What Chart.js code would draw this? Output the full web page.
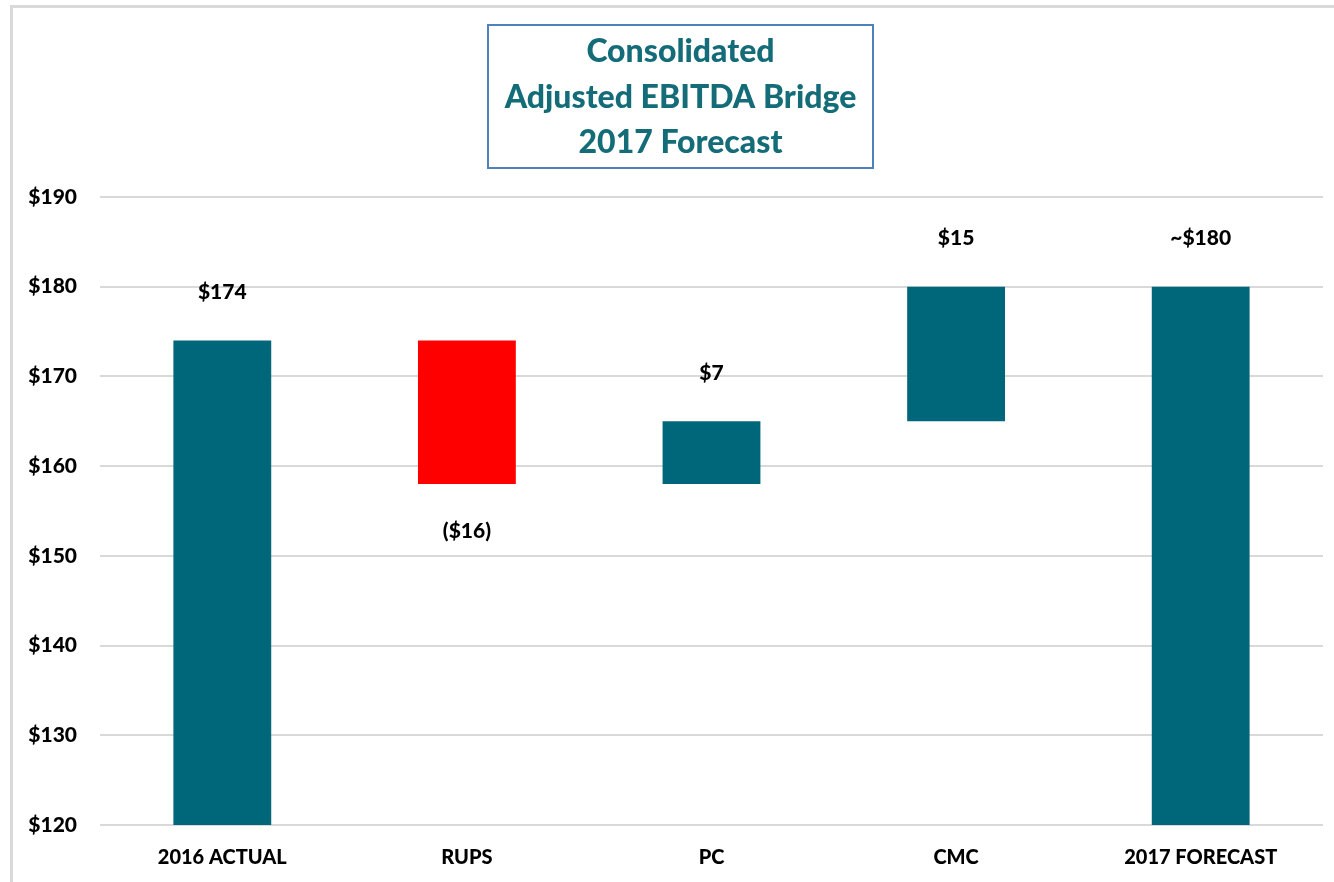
<!DOCTYPE html>
<html>
<head>
<meta charset="utf-8">
<script src="https://cdn.jsdelivr.net/npm/chart.js@4"></script>
<style>
  html, body { margin: 0; padding: 0; background: #ffffff; }
  #wrap { width: 1334px; height: 882px; position: relative; }
</style>
</head>
<body>
<div id="wrap"><canvas id="c" width="1334" height="882"></canvas></div>
<script>
// ---- data ----
const categories = ['2016 ACTUAL', 'RUPS', 'PC', 'CMC', '2017 FORECAST'];
const barStart = [120, 158, 158, 165, 120];
const barEnd   = [174, 174, 165, 180, 180];
const valueLabels = ['$174', '($16)', '$7', '$15', '~$180'];
const labelBelow = [false, true, false, false, false];
const barColors = ['#00667A', '#FF0000', '#00667A', '#00667A', '#00667A'];
const titleLines = ['Consolidated', 'Adjusted EBITDA Bridge', '2017 Forecast'];
const yMin = 120, yMax = 190, yStep = 10;

const FONT = 'Lato, "Open Sans", "DejaVu Sans", sans-serif';

const framePlugin = {
  id: 'frame',
  beforeDraw(chart) {
    const ctx = chart.ctx;
    ctx.save();
    ctx.fillStyle = '#ffffff';
    ctx.fillRect(0, 0, chart.width, chart.height);
    ctx.strokeStyle = '#D9D9D9';
    ctx.lineWidth = 3;
    ctx.beginPath();
    ctx.moveTo(11.5, chart.height);
    ctx.lineTo(11.5, 6.5);
    ctx.lineTo(chart.width, 6.5);
    ctx.stroke();
    ctx.restore();
  },
  afterDraw(chart) {
    const ctx = chart.ctx;
    ctx.save();
    // title box
    ctx.strokeStyle = '#4F81BD';
    ctx.lineWidth = 2;
    ctx.strokeRect(488, 25, 385, 143);
    ctx.fillStyle = '#146C79';
    ctx.font = '900 32px ' + FONT;
    ctx.textAlign = 'center';
    ctx.textBaseline = 'middle';
    const cx = 680.5;
    titleLines.forEach((t, i) => ctx.fillText(t, cx, 52 + i * 45.5));
    // value labels
    const xs = chart.scales.x, ys = chart.scales.y;
    ctx.fillStyle = '#000000';
    ctx.font = '900 21px ' + FONT;
    categories.forEach((c, i) => {
      const x = xs.getPixelForValue(i);
      let y;
      if (labelBelow[i]) {
        y = ys.getPixelForValue(Math.min(barStart[i], barEnd[i])) + 47;
      } else {
        y = ys.getPixelForValue(Math.max(barStart[i], barEnd[i])) - 48;
      }
      ctx.fillText(valueLabels[i], x, y);
    });
    ctx.restore();
  }
};

new Chart(document.getElementById('c'), {
  type: 'bar',
  data: {
    labels: categories,
    datasets: [{
      data: barStart.map((s, i) => [s, barEnd[i]]),
      backgroundColor: barColors,
      borderWidth: 0,
      barPercentage: 0.8,
      categoryPercentage: 0.5
    }]
  },
  options: {
    responsive: false,
    animation: false,
    layout: { padding: { top: 197, right: 11, left: 0, bottom: 0 } },
    plugins: {
      legend: { display: false },
      tooltip: { enabled: false },
      title: { display: false }
    },
    scales: {
      x: {
        grid: { display: false, drawTicks: false },
        border: { display: false },
        ticks: {
          color: '#000000',
          font: { family: FONT, size: 20, weight: 900 },
          padding: 21,
          maxRotation: 0
        },
        afterFit(scale) { scale.height = 57; }
      },
      y: {
        min: yMin,
        max: yMax,
        grid: { color: '#D9D9D9', lineWidth: 2, drawTicks: false },
        border: { display: false },
        ticks: {
          stepSize: yStep,
          color: '#000000',
          padding: 23,
          font: { family: FONT, size: 21, weight: 900 },
          callback: v => '$' + v
        },
        afterFit(scale) { scale.width = 100; }
      }
    }
  },
  plugins: [framePlugin]
});
</script>
</body>
</html>
